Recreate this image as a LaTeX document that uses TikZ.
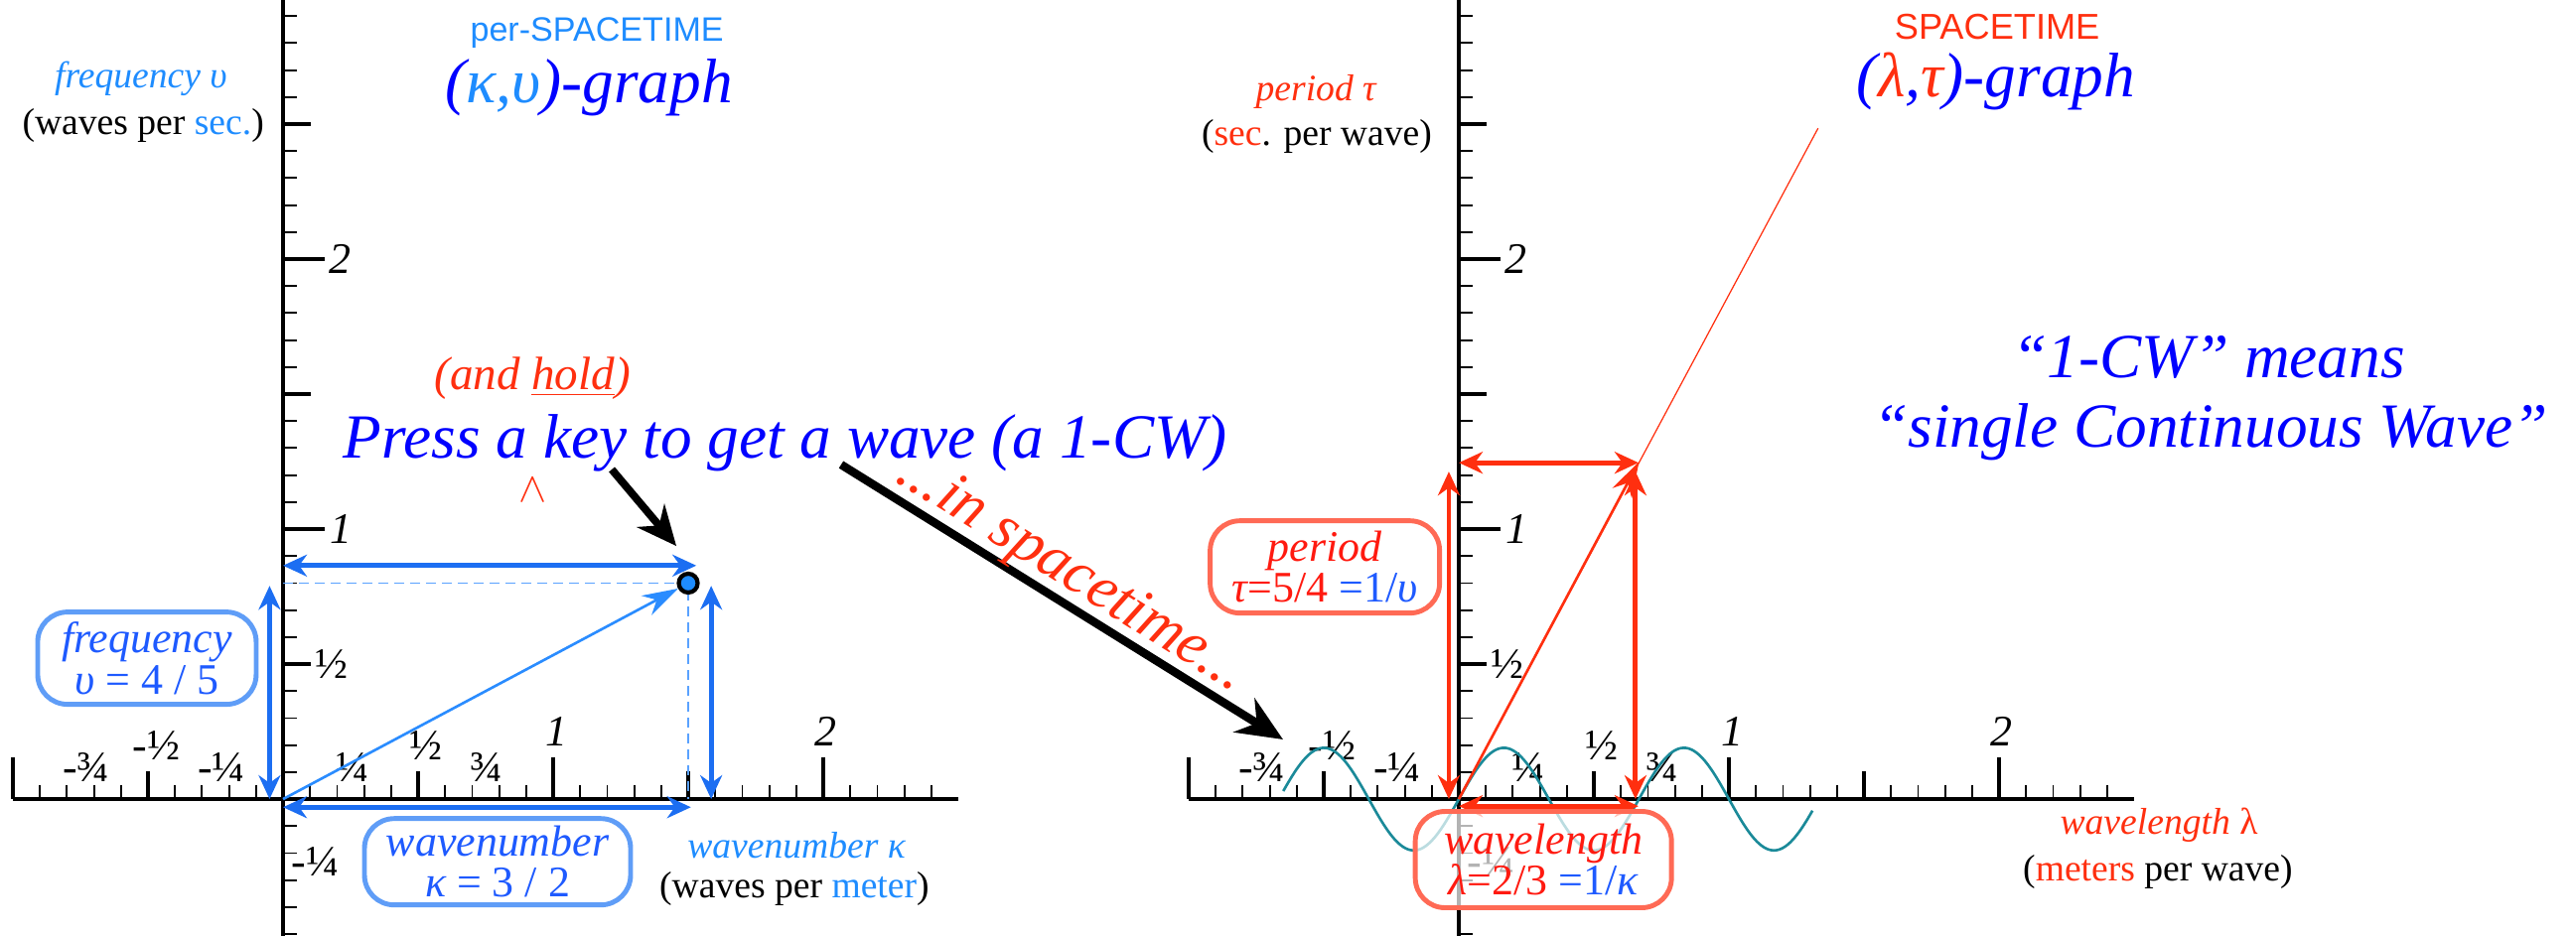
\documentclass[tikz,border=0pt]{standalone}
\usepackage{fontspec}
\setmainfont{Liberation Serif}
\newfontfamily\hvfont{Liberation Sans}
\usepackage{xcolor}
\usetikzlibrary{positioning,arrows.meta,calc}
\definecolor{ltblue}{HTML}{1E8CFF}
\definecolor{arrblue}{HTML}{1C6EF2}
\definecolor{diagblue}{HTML}{2A8CFF}
\definecolor{boxblue}{HTML}{5F9DF7}
\definecolor{txtblue}{HTML}{1E5AFF}
\definecolor{deepblue}{HTML}{0000FF}
\definecolor{stred}{HTML}{FF2F0F}
\definecolor{boxred}{HTML}{FF6A55}
\definecolor{txtred}{HTML}{FF1A10}
\definecolor{wavecol}{HTML}{1B8A99}
\definecolor{dashblue}{HTML}{5AA2FF}

\begin{document}
\begin{tikzpicture}[x=2.72cm,y=2.72cm,
  axis/.style={line width=1.1pt},
  tk/.style={line width=0.55pt},
  tkb/.style={line width=1pt},
  num/.style={font=\fontsize{12.5}{14}\selectfont,inner sep=0pt},
  inum/.style={font=\fontsize{12.5}{14}\selectfont\itshape,inner sep=0pt},
  axname/.style={font=\fontsize{10.7}{12}\selectfont,inner sep=0pt},
  big/.style={font=\fontsize{18}{20}\selectfont\itshape,inner sep=0pt,text=deepblue},
  box/.style={line width=1.4pt,rounded corners=0.3cm,fill=white,align=center,
    font=\fontsize{12.5}{11.8}\selectfont,inner sep=0pt},
  bbox/.style={box,draw=boxblue,text=txtblue},
  rbox/.style={box,draw=boxred,text=txtred,fill opacity=0.7,text opacity=1},
  dbl/.style={{Stealth[length=0.24cm,width=0.22cm]}-{Stealth[length=0.24cm,width=0.22cm]},line width=1.4pt},
  blk/.style={-{Stealth[length=0.4cm,width=0.36cm]},line width=2.2pt}]
\useasboundingbox (-1.048,-0.504) rectangle (8.489,2.96);

% axes, per-SPACETIME left and SPACETIME right
\foreach \ox [count=\g] in {0,4.353}{
  \draw[axis] (\ox-1,0) -- (\ox+2.5,0);
  \draw[axis] (\ox,-0.51) -- (\ox,2.97);
  \foreach \t in {-1,-0.9,...,2.45} \draw[tk] (\ox+\t,0) -- ++(0,0.05);
  \foreach \t in {-0.5,0.5,1.5} \draw[tkb] (\ox+\t,0) -- ++(0,0.103);
  \foreach \t in {-1,1,2} \draw[tkb] (\ox+\t,0) -- ++(0,0.154);
  \foreach \t in {-0.5,-0.4,...,2.95} \draw[tk] (\ox,\t) -- ++(0.05,0);
  \foreach \t in {0.5,1.5,2.5} \draw[tkb] (\ox,\t) -- ++(0.103,0);
  \foreach \t in {1,2} \draw[tkb] (\ox,\t) -- ++(0.154,0);
  \foreach \t/\h/\lab [count=\k] in {-0.728/0.118/{-¾},-0.47/0.199/{-½},-0.228/0.118/{-¼},
      0.256/0.118/{¼},0.53/0.199/{½},0.755/0.118/{¾}}
    \node[num] (xl\g-\k) at (\ox+\t,\h) {\lab};
  \node[inum] (xi\g-1) at (\ox+1.012,0.25) {1};
  \node[inum] (xi\g-2) at (\ox+2.008,0.25) {2};
  \node[inum] (yi\g-1) at (\ox+0.215,1) {1};
  \node[inum] (yi\g-2) at (\ox+0.213,2) {2};
  \node[num] (yh\g) at (\ox+0.18,0.5) {½};
  \node[num] (yq\g) at (\ox+0.12,-0.23) {-¼};
}

% left graph
\node[font=\hvfont\fontsize{9.7}{11}\selectfont,text=ltblue,inner sep=0pt] (pst) at (1.162,2.838) {per-SPACETIME};
\node[big] (kgraph) at (1.132,2.636) {(\textcolor{ltblue}{κ,υ})-graph};
\node[axname,font=\fontsize{10.7}{12}\selectfont\itshape,text=ltblue] (fq) at (-0.526,2.669) {frequency υ};
\node[axname] (fqu) at (-0.518,2.496) {(waves per \textcolor{ltblue}{sec.})};
\coordinate (O1) at (0,0);
\coordinate (kc) at (1.5,0.8);
\coordinate (k0) at (1.5,0);
\coordinate (u0) at (0,0.8);
\draw[dashblue,line width=0.5pt,dash pattern=on 0.1cm off 0.06cm] (u0) -- (kc) -- (k0);
\coordinate (kt1) at (0,0.865);   \coordinate (kt2) at (1.53,0.865);
\coordinate (kl1) at (-0.05,0.79); \coordinate (kl2) at (-0.05,0);
\coordinate (kr1) at (1.585,0.79); \coordinate (kr2) at (1.585,0);
\coordinate (kb1) at (0,-0.03);   \coordinate (kb2) at (1.51,-0.03);
\draw[dbl,arrblue] (kt1) -- (kt2);
\draw[dbl,arrblue] (kl1) -- (kl2);
\draw[dbl,arrblue] (kr1) -- (kr2);
\draw[dbl,arrblue] (kb1) -- (kb2);
\node[circle,draw,line width=1.2pt,fill=ltblue,inner sep=0pt,minimum size=0.19cm] (kpt) at (kc) {};
\draw[-{Stealth[length=0.36cm,width=0.22cm]},diagblue,line width=0.75pt] (O1) -- (kpt);
\node[bbox,minimum width=2.2cm,minimum height=0.93cm] (fbox) at (-0.504,0.522)
  {{\itshape frequency}\\{\itshape υ} = 4 / 5};
\node[bbox,minimum width=2.68cm,minimum height=0.87cm] (wbox) at (0.794,-0.232)
  {{\itshape wavenumber}\\{\itshape κ} = 3 / 2};
\node[axname,font=\fontsize{10.7}{12}\selectfont\itshape,text=ltblue] (wn) at (1.901,-0.173) {wavenumber κ};
\node[axname] (wnu) at (1.893,-0.331) {(waves per \textcolor{ltblue}{meter})};

% press a key
\node[font=\fontsize{13.4}{15}\selectfont\itshape,text=stred,inner sep=0pt] (hold) at (0.923,1.559) {(and \underline{hold})};
\node[big] (press) at (1.860,1.320) {Press a key to get a wave (a 1-CW)};
\node[font=\fontsize{12.5}{14}\selectfont,text=stred,inner sep=0pt] (caret) at (0.926,1.143) {$\wedge$};
\coordinate (keyfoot) at (1.217,1.221);
\coordinate (keytip) at (1.456,0.9375);
\draw[blk] (keyfoot) -- (keytip);
\coordinate (wavefoot) at (2.066,1.239);
\coordinate (wavetip) at (3.702,0.221);
\draw[blk,line width=2.4pt,-{Stealth[length=0.46cm,width=0.4cm]}] (wavefoot) -- (wavetip);
\node[font=\fontsize{17.6}{19}\selectfont\itshape,text=stred,inner sep=0pt,rotate=-32] (inst) at (2.92,0.83) {...in spacetime...};

% right graph
\node[font=\hvfont\fontsize{10.3}{12}\selectfont,text=stred,inner sep=0pt] (st) at (6.346,2.86) {SPACETIME};
\node[big] (lgraph) at (6.342,2.658) {(\textcolor{stred}{λ},\textcolor{stred}{τ})-graph};
\node[axname,font=\fontsize{10.7}{12}\selectfont\itshape,text=stred] (pd) at (3.824,2.621) {period τ};
\node[axname] (pdu) at (3.827,2.456) {(\textcolor{stred}{sec}. per wave)};
\coordinate (O2) at (4.353,0);
\coordinate (lpt) at (5.02,1.25);
\coordinate (lfar) at (5.683,2.485);
\draw[wavecol,line width=0.75pt] plot[domain=-0.65:1.31,samples=120,smooth] ({4.353+\x},{0.19*sin(540*\x)});
\draw[stred,line width=0.35pt] (O2) -- (lfar);
\coordinate (lt1) at (4.353,1.246); \coordinate (lt2) at (5.018,1.246);
\coordinate (ll1) at (4.316,1.213); \coordinate (ll2) at (4.316,0);
\coordinate (lr1) at (5.007,1.213); \coordinate (lr2) at (5.007,0);
\coordinate (lb1) at (4.353,-0.026); \coordinate (lb2) at (5.018,-0.026);
\draw[dbl,stred] (lt1) -- (lt2);
\draw[dbl,stred] (ll1) -- (ll2);
\draw[dbl,stred] (lr1) -- (lr2);
\draw[dbl,stred] (lb1) -- (lb2);
\draw[-{Stealth[length=0.36cm,width=0.22cm]},stred,line width=0.75pt] (O2) -- (lpt);
\node[rbox,minimum width=2.31cm,minimum height=0.93cm] (pbox) at (3.857,0.860)
  {{\itshape period}\\{\itshape τ}=5/4 \textcolor{txtblue}{=1/{\itshape υ}}};
\node[rbox,minimum width=2.58cm,minimum height=0.97cm] (lbox) at (4.666,-0.224)
  {{\itshape wavelength}\\{\itshape λ}=2/3 \textcolor{txtblue}{=1/{\itshape κ}}};
\node[axname,font=\fontsize{10.7}{12}\selectfont\itshape,text=stred] (wl) at (6.945,-0.096) {wavelength \upshape λ};
\node[axname] (wlu) at (6.941,-0.268) {(\textcolor{stred}{meters} per wave)};

% 1-CW note
\node[big,anchor=base] (cw1) at (7.129,1.5625) {“1-CW” means};
\node[big,anchor=base] (cw2) at (7.136,1.305) {“single Continuous Wave”};
\end{tikzpicture}
\end{document}
